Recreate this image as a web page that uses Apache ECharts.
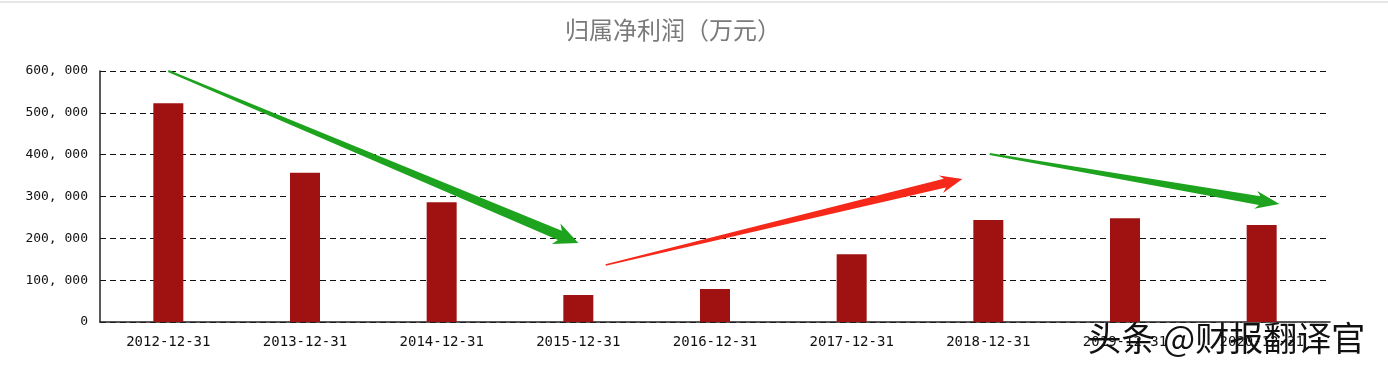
<!DOCTYPE html>
<html><head><meta charset="utf-8">
<script src="https://cdn.jsdelivr.net/npm/echarts@6/dist/echarts.min.js"></script>
<style>html,body{margin:0;padding:0;background:#fff}#c{width:1388px;height:375px}</style>
</head><body><div id="c"></div>
<script>
var categories = ['2012-12-31','2013-12-31','2014-12-31','2015-12-31','2016-12-31','2017-12-31','2018-12-31','2019-12-31','2020-12-31'];
var profit = [523000, 357000, 286000, 64500, 79000, 162000, 244000, 248000, 232000];
var yTicks = [0, 100000, 200000, 300000, 400000, 500000, 600000];
var titleText = '归属净利润（万元）';
var watermark = '头条 @财报翻译官';
// annotation arrows: [startCat, startVal, endCat, endVal]
var arrowsGreen = [[0, 600000, 3.0, 188800], [6.01, 401600, 8.13, 282000]];
var arrowsRed = [[3.2, 136300, 5.81, 341800]];

var chart = echarts.init(document.getElementById('c'));
function fmt(v){ if(v===0) return '0'; var s=String(v); return s.slice(0,s.length-3)+', '+s.slice(-3); }
chart.setOption({
  animation:false,
  title:{text:titleText,left:560,top:13,textStyle:{fontFamily:'Noto Sans CJK SC',fontSize:24,fontWeight:'normal',color:'#7a7a7a'}},
  grid:{left:100,right:58,top:71,bottom:53},
  xAxis:[{type:'category',data:categories,
    axisLine:{onZero:false,lineStyle:{color:'#222',width:1.5}},axisTick:{show:false},
    axisLabel:{color:'#111',fontFamily:'DejaVu Sans Mono',fontSize:14,margin:13}},
    {type:'value',min:-0.5,max:categories.length-0.5,show:false,position:'bottom',splitLine:{show:false}}],
  yAxis:{type:'value',min:yTicks[0],max:yTicks[yTicks.length-1],interval:100000,
    axisLine:{show:true,onZero:false,lineStyle:{color:'#222',width:1.5}},axisTick:{show:false},
    axisLabel:{color:'#111',fontFamily:'DejaVu Sans Mono',fontSize:13,margin:12,formatter:fmt},
    splitLine:{lineStyle:{color:'#111',type:[6,4],width:1.2}}},
  series:[{type:'bar',data:profit,barWidth:30,itemStyle:{color:'#a01212'}}]
});

function arrowPoly(p0,p1,w0,w1,hl,hw){
  var dx=p1[0]-p0[0],dy=p1[1]-p0[1],L=Math.sqrt(dx*dx+dy*dy);
  var ux=dx/L,uy=dy/L,nx=-uy,ny=ux;
  var bx=p1[0]-ux*hl,by=p1[1]-uy*hl;
  var wx=bx-ux*4,wy=by-uy*4;
  return [[p0[0]+nx*w0/2,p0[1]+ny*w0/2],[bx+nx*w1/2,by+ny*w1/2],[wx+nx*hw/2,wy+ny*hw/2],
          [p1[0],p1[1]],[wx-nx*hw/2,wy-ny*hw/2],[bx-nx*w1/2,by-ny*w1/2],[p0[0]-nx*w0/2,p0[1]-ny*w0/2]];
}
function px(c,v){ return [chart.convertToPixel({xAxisIndex:1},c), chart.convertToPixel({yAxisIndex:0},v)]; }
var g=[{type:'rect',shape:{x:0,y:1,width:1388,height:2},style:{fill:'#e6e6e6'}}];
arrowsGreen.forEach(function(a,i){
  g.push({type:'polygon',shape:{points:arrowPoly(px(a[0],a[1]),px(a[2],a[3]),2,i===0?10:9,20,i===0?22:18)},style:{fill:'#1ea31e'}});
});
arrowsRed.forEach(function(a){
  g.push({type:'polygon',shape:{points:arrowPoly(px(a[0],a[1]),px(a[2],a[3]),1.5,9,18,18)},style:{fill:'#f5281a'}});
});
g.push({type:'text',left:1086,top:320,style:{text:watermark,fontFamily:'Noto Sans CJK SC',fontSize:34,fill:'#111',stroke:'#fff',lineWidth:3}});
chart.setOption({graphic:g});
</script></body></html>
